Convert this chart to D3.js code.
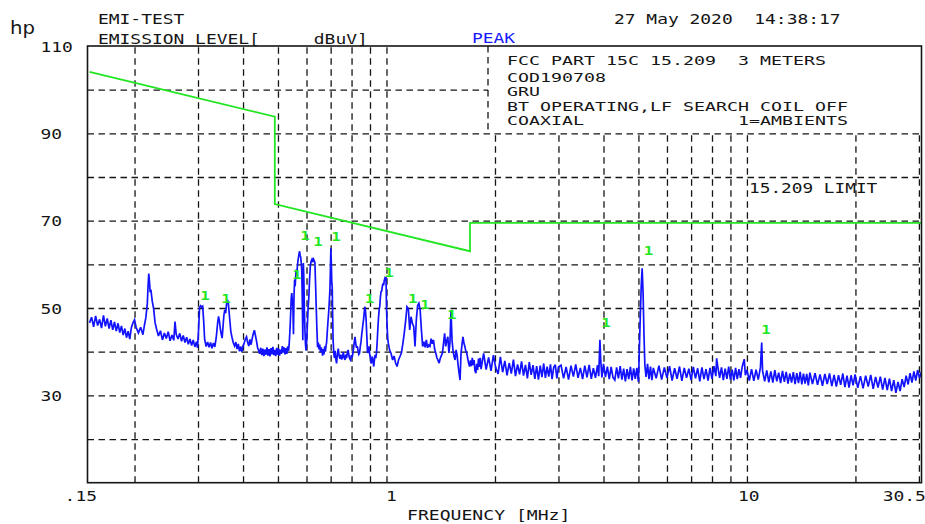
<!DOCTYPE html>
<html>
<head>
<meta charset="utf-8">
<script src="https://cdn.jsdelivr.net/npm/d3@7"></script>
<style>
  html, body { margin: 0; padding: 0; background: #fff; }
  svg { display: block; }
  text { white-space: pre; }
</style>
</head>
<body>
<svg id="chart" width="925" height="524"></svg>
<script>
// ---------------- data ----------------
const gridFreqMHz = [0.2, 0.3, 0.4, 0.5, 0.6, 0.7, 0.8, 0.9, 1, 2, 3, 4, 5, 6, 7, 8, 9, 10, 20, 30];
const gridLevels = [20, 30, 40, 50, 60, 70, 80, 90, 100];
const xTickValues = [0.15, 1, 10, 30.5];
const xTickLabels = [".15", "1", "10", "30.5"];
const yTickValues = [110, 90, 70, 50, 30];

// FCC 15.209 limit at 3 m (dBuV/m)
const limitFreqMHz = [0.15, 0.49, 0.49, 1.705, 1.705, 30.5];
const limitLevel   = [104.1, 93.8, 73.8, 63.0, 69.5, 69.5];

// ambient markers ("1")
const ambientFreqMHz = [0.3136, 0.3586, 0.5645, 0.594, 0.6456, 0.7245, 0.897, 1.016, 1.184, 1.279, 1.519, 4.063, 5.333, 11.29];
const ambientLevel   = [51.8, 51.1, 56.6, 65.6, 64.2, 65.4, 51.2, 57.1, 51.2, 49.7, 47.5, 45.7, 62.1, 44.0];

// peak sweep, [MHz, dBuV]
const sweepLow = [
  [0.150,46.6],[0.152,47.9],[0.154,45.7],[0.156,48.2],[0.158,46.0],[0.160,47.4],[0.162,45.4],[0.164,48.3],[0.166,45.8],[0.168,47.6],
  [0.170,45.3],[0.172,47.2],[0.174,45.0],[0.176,46.8],[0.178,44.7],[0.180,46.5],[0.182,44.4],[0.184,45.9],[0.186,43.8],[0.188,45.3],
  [0.190,43.2],[0.192,44.7],[0.194,42.9],[0.196,45.5],[0.198,46.6],[0.200,47.3],[0.202,45.6],[0.205,44.3],[0.208,45.6],[0.211,43.9],
  [0.213,46.0],[0.215,47.8],[0.217,51.0],[0.218,54.8],[0.219,57.9],[0.220,56.2],[0.221,53.6],[0.222,54.2],[0.224,51.5],[0.226,49.8],
  [0.228,46.7],[0.230,45.3],[0.233,43.6],[0.236,44.8],[0.239,42.7],[0.242,44.3],[0.245,43.0],[0.248,44.6],[0.251,42.5],[0.254,43.8],
  [0.257,42.6],[0.259,46.9],[0.261,44.0],[0.264,42.9],[0.267,44.2],[0.270,42.4],[0.273,43.7],[0.276,42.1],[0.279,43.3],[0.282,41.7],
  [0.285,42.9],[0.288,41.4],[0.291,42.7],[0.294,41.1],[0.297,42.3],[0.299,40.9],[0.301,44.8],[0.303,50.1],[0.305,50.5],[0.307,50.2],
  [0.309,50.4],[0.311,47.2],[0.313,42.8],[0.316,41.2],[0.319,42.2],[0.322,41.0],[0.325,42.1],[0.328,40.8],[0.331,42.0],[0.334,41.1],
  [0.337,43.2],[0.340,46.5],[0.342,48.1],[0.344,47.0],[0.346,45.2],[0.348,44.0],[0.350,43.1],[0.352,45.8],[0.354,48.4],[0.356,49.6],
  [0.358,48.8],[0.360,50.9],[0.362,51.9],[0.364,51.2],[0.366,49.0],[0.368,46.8],[0.370,44.6],[0.373,43.2],[0.376,42.0],[0.379,41.3],
  [0.382,42.2],[0.385,40.6],[0.388,41.8],[0.391,40.1],[0.394,41.2],[0.397,40.0],[0.400,41.3],[0.403,42.0],[0.406,42.9],[0.409,43.4],
  [0.412,42.1],[0.415,41.3],[0.418,42.8],[0.421,41.6],[0.424,43.0],[0.427,44.1],[0.430,44.9],[0.433,43.7],[0.436,42.4],[0.439,40.9],
  [0.442,40.3],[0.445,39.5],[0.448,40.9],[0.451,39.2],[0.454,40.7],[0.457,39.0],[0.460,40.5],[0.463,39.3],[0.466,41.0],[0.469,39.1],
  [0.472,40.6],[0.475,38.9],[0.478,40.8],[0.481,39.4],[0.484,41.1],[0.487,39.2],[0.490,40.4],[0.493,39.0],[0.496,40.9],[0.499,39.3],
  [0.502,40.7],[0.505,39.1],[0.508,40.5],[0.511,39.5],[0.514,41.3],[0.517,39.8],[0.520,41.0],[0.523,39.4],[0.526,40.8],[0.529,39.5],
  [0.532,41.2],[0.535,40.2]
];
const sweepMid = [
  [0.537,41.6],[0.540,45.2],[0.542,48.3],[0.544,52.1],[0.546,53.4],[0.548,51.7],[0.550,50.2],[0.552,44.0],[0.554,52.8],[0.556,56.5],
  [0.558,55.0],[0.560,57.3],[0.562,58.8],[0.564,57.6],[0.566,59.5],[0.568,60.8],[0.570,61.6],[0.572,62.4],[0.574,63.0],[0.576,62.1],
  [0.578,61.7],[0.580,60.4],[0.582,58.6],[0.584,52.0],[0.586,42.6],[0.587,50.0],[0.588,60.3],[0.590,56.5],[0.592,49.4],[0.594,45.0],
  [0.596,41.8],[0.598,40.3],[0.600,41.7],[0.603,45.6],[0.606,49.8],[0.609,52.5],[0.612,56.7],[0.615,59.8],[0.618,60.7],[0.621,61.1],
  [0.624,60.5],[0.627,61.2],[0.630,60.9],[0.633,60.4],[0.636,55.0],[0.638,51.0],[0.641,45.3],[0.644,41.0],[0.647,42.1],[0.650,40.5],
  [0.653,41.6],[0.656,39.9],[0.659,41.0],[0.662,40.2],[0.665,39.1],[0.668,40.6],[0.671,39.4],[0.674,41.2],[0.677,40.0],[0.680,41.5],
  [0.682,42.0],[0.685,44.5],[0.688,46.8],[0.691,48.8],[0.694,51.5],[0.697,54.5],[0.699,59.0],[0.701,63.7],[0.703,60.5],[0.705,56.0],
  [0.707,54.9],[0.709,48.5],[0.711,42.7],[0.714,39.8],[0.717,38.6],[0.720,40.2],[0.723,38.5],[0.727,37.3],[0.731,39.6],[0.735,40.7],
  [0.739,39.0],[0.743,38.4],[0.747,39.3],[0.751,38.2],[0.755,38.8],[0.759,39.9],[0.763,38.6],[0.767,38.1],[0.771,39.3],[0.775,38.5],
  [0.779,39.8],[0.783,40.4],[0.787,39.0],[0.791,38.4],[0.795,38.1],[0.799,39.2],[0.803,38.7],[0.807,39.7],[0.811,41.0],[0.815,42.6],
  [0.818,43.4],[0.822,41.8],[0.826,40.9],[0.830,41.3],[0.834,40.2],[0.838,39.4],[0.842,39.7],[0.846,41.2],[0.850,42.3],[0.854,44.1],
  [0.857,45.0],[0.860,46.2],[0.864,47.4],[0.868,49.2],[0.872,50.3],[0.875,49.0],[0.878,47.3],[0.882,43.5],[0.886,39.7],[0.890,40.6],
  [0.894,41.2],[0.898,39.5],[0.902,38.6],[0.906,37.3],[0.910,38.0],[0.914,38.9],[0.918,37.6],[0.922,36.6],[0.926,38.2],[0.930,39.3],
  [0.934,38.5],[0.938,39.7],[0.942,42.0],[0.946,45.0],[0.950,47.6],[0.954,49.5],[0.958,50.4],[0.962,52.5],[0.966,53.8],[0.970,53.9],
  [0.974,55.0],[0.978,55.6],[0.982,55.2],[0.986,56.3],[0.990,56.8],[0.994,56.5],[0.997,57.1],[1.000,50.3],[1.004,45.8],[1.008,43.0],
  [1.012,41.9],[1.02,40.4],[1.03,39.6],[1.04,38.1],[1.05,39.0],[1.06,37.4],[1.07,36.6],[1.08,38.1],[1.09,38.9],
  [1.10,39.7],[1.11,41.8],[1.12,44.2],[1.13,47.0],[1.14,50.3],[1.15,49.9],[1.16,45.0],[1.17,48.0],[1.18,46.5],[1.19,45.8],
  [1.20,41.2],[1.21,47.3],[1.22,50.6],[1.23,51.1],[1.24,49.5],[1.25,45.0],[1.26,41.2],[1.27,42.3],[1.28,41.0],[1.29,42.7],
  [1.30,40.9],[1.31,41.5],[1.32,41.2],[1.33,43.0],[1.34,41.8],[1.35,42.7],[1.36,40.6],[1.37,39.7],[1.38,38.6],[1.39,38.0],
  [1.40,37.4],[1.41,38.5],[1.42,39.1],[1.43,39.7],[1.44,42.0],[1.45,44.2],[1.46,41.2],[1.47,42.6],[1.48,43.4],[1.49,39.7],
  [1.50,42.0],[1.51,49.5],[1.52,42.7],[1.53,40.2],[1.54,38.9],[1.55,38.1],[1.56,40.4],[1.57,39.2],[1.58,37.0],[1.59,35.1],
  [1.60,33.5],[1.61,39.7],[1.62,41.6],[1.63,43.4],[1.64,42.0],[1.65,41.2],[1.66,40.1],[1.67,39.7],[1.68,38.5],[1.69,37.4],
  [1.70,36.6],[1.71,38.0],[1.72,36.7],[1.73,38.6],[1.74,36.9],[1.75,38.1],[1.76,35.6],[1.77,35.1],[1.78,37.2],[1.79,35.8],
  [1.80,38.4],[1.81,36.5],[1.82,38.6],[1.83,36.0]
];
const sweepHigh = [
  [1.84,37.2],[1.86,39.6],[1.89,35.9],[1.92,38.7],[1.95,35.6],[1.98,39.2],[2.01,36.3],[2.04,34.9],[2.07,38.8],[2.10,35.3],
  [2.13,37.9],[2.16,34.6],[2.19,37.4],[2.22,35.0],[2.25,38.2],[2.28,34.4],[2.31,37.1],[2.34,34.8],[2.37,37.8],[2.40,34.5],
  [2.43,37.0],[2.46,33.9],[2.49,37.6],[2.52,34.7],[2.55,36.9],[2.58,33.8],[2.61,36.7],[2.64,33.6],[2.67,36.8],[2.70,34.2],
  [2.73,37.3],[2.76,34.0],[2.79,36.6],[2.82,34.3],[2.85,37.1],[2.88,33.7],[2.91,36.4],[2.94,37.0],[2.97,33.9],[3.00,36.5],
  [3.05,36.9],[3.10,33.9],[3.15,36.5],[3.20,33.6],[3.25,36.8],[3.30,34.3],[3.35,37.1],[3.40,34.0],[3.45,36.3],[3.50,33.7],
  [3.55,36.8],[3.60,34.1],[3.65,37.0],[3.70,33.8],[3.75,36.2],[3.80,34.0],[3.85,36.9],[3.88,34.4],[3.91,42.7],[3.93,38.0],
  [3.96,34.1],[4.00,37.2],[4.05,34.2],[4.10,36.6],[4.15,33.7],[4.20,36.5],[4.25,34.1],[4.30,33.5],[4.35,36.4],[4.40,33.9],
  [4.45,36.7],[4.50,33.6],[4.55,36.1],[4.60,33.2],[4.65,36.0],[4.70,33.7],[4.75,36.5],[4.80,33.4],[4.85,36.2],[4.90,33.8],
  [4.95,36.3],[5.00,33.1],[5.03,40.5],[5.06,48.0],[5.09,55.0],[5.12,59.1],[5.15,53.7],[5.18,44.0],[5.21,36.9],[5.25,34.2],
  [5.30,37.2],[5.35,33.7],[5.40,36.6],[5.45,33.5],[5.50,36.3],[5.60,33.9],[5.70,36.8],[5.80,33.6],[5.90,36.4],[6.00,34.0],
  [6.10,36.7],[6.20,33.4],[6.30,36.2],[6.40,33.8],[6.50,36.6],[6.60,33.3],[6.70,36.3],[6.80,34.0],[6.90,36.1],[7.00,33.5],
  [7.10,36.5],[7.20,33.9],[7.30,36.2],[7.40,33.2],[7.50,36.4],[7.60,33.7],[7.70,36.0],[7.80,33.4],[7.90,36.3],[8.00,33.8],
  [8.10,36.7],[8.20,34.4],[8.24,38.5],[8.30,36.6],[8.40,34.0],[8.50,36.4],[8.60,33.5],[8.70,36.1],[8.80,33.8],[8.90,36.6],
  [9.00,33.6],[9.10,35.9],[9.20,33.4],[9.30,36.3],[9.40,33.7],[9.50,36.0],[9.60,34.0],[9.70,36.5],[9.83,38.3],[9.90,34.6],
  [10.0,35.8],[10.15,33.4],[10.30,36.0],[10.45,33.3],[10.60,35.9],[10.75,33.6],[10.90,36.4],[10.99,42.1],[11.05,35.6],[11.20,33.2],
  [11.35,35.7],[11.50,33.0],[11.65,35.5],[11.80,32.9],[11.95,35.8],[12.10,33.2],[12.25,35.2],[12.40,32.8],[12.55,35.6],[12.70,33.1],
  [12.85,35.4],[13.00,32.7],[13.15,35.0],[13.30,32.9],[13.45,35.3],[13.60,32.6],[13.75,35.1],[13.90,32.8],[14.05,35.4],[14.20,32.5],
  [14.35,35.0],[14.50,32.7],[14.65,34.9],[14.80,32.3],[14.95,35.2],[15.20,32.6],[15.45,35.1],[15.70,32.4],[15.95,34.8],[16.20,32.2],
  [16.45,34.9],[16.70,32.6],[16.95,35.0],[17.20,32.1],[17.45,34.7],[17.70,32.0],[17.95,34.6],[18.20,32.4],[18.45,35.0],[18.70,31.9],
  [18.95,34.5],[19.20,31.8],[19.45,34.6],[19.70,32.3],[19.95,34.8],[20.30,31.7],[20.65,34.4],[21.00,31.6],[21.35,34.5],[21.70,32.0],
  [22.05,34.7],[22.40,31.5],[22.75,34.2],[23.10,31.8],[23.45,34.3],[23.80,31.3],[24.15,34.0],[24.50,31.2],[24.85,33.8],[25.20,31.0],
  [25.55,33.5],[25.90,30.6],[26.25,33.1],[26.60,31.0],[26.95,33.7],[27.30,31.9],[27.65,34.5],[28.00,32.5],[28.35,35.1],[28.70,32.9],
  [29.05,35.5],[29.40,33.4],[29.75,35.8],[30.10,34.0],[30.50,35.4]
];

// texts
const titleLines = ["EMI-TEST", "EMISSION LEVEL[     dBuV]"];
const dateText = "27 May 2020  14:38:17";
const detectorText = "PEAK";
const infoLines = [
  "FCC PART 15C 15.209  3 METERS",
  "COD190708",
  "GRU",
  "BT OPERATING,LF SEARCH COIL OFF",
  "COAXIAL              1=AMBIENTS"
];
const limitLabel = "15.209 LIMIT";
const xTitle = "FREQUENCY [MHz]";
const logoText = "hp";

// ---------------- layout ----------------
const FONT = "'DejaVu Sans Mono', 'Liberation Mono', monospace";
const ADV = 0.602;           // advance width of the mono font, in em
const ink = "#151515";
const green = "#22e622";
const blue = "#1212ff";
const plot = { left: 87.5, right: 921.5, top: 46, bottom: 482.7 };

const svg = d3.select("#chart");
const x = d3.scaleLog().domain([0.15, 30.5]).range([89.5, 921.5]);
const y = d3.scaleLinear().domain([10, 110]).range([plot.bottom, plot.top]);

// mono text stretched to the plotter's wide character pitch
function mono(parent, str, px, py, size, pitch, fill, anchor, weight) {
  const sx = pitch / (ADV * size);
  return parent.append("text")
    .attr("transform", `translate(${px},${py}) scale(${sx},1)`)
    .attr("font-family", FONT)
    .attr("font-size", size)
    .attr("font-weight", weight || "normal")
    .attr("fill", fill || ink)
    .attr("text-anchor", anchor || "start")
    .text(str);
}

// ---------------- grid ----------------
const dash = "6.5,4.5";
const vGrid = svg.append("g")
  .attr("transform", `translate(0,${plot.bottom})`)
  .call(d3.axisBottom(x).tickValues(gridFreqMHz).tickSize(-(plot.bottom - plot.top)).tickFormat(""));
vGrid.select(".domain").remove();
vGrid.selectAll("line").attr("stroke", ink).attr("stroke-width", 1.3).attr("stroke-dasharray", dash);

const hGrid = svg.append("g")
  .attr("transform", `translate(${plot.left},0)`)
  .call(d3.axisLeft(y).tickValues(gridLevels).tickSize(-(plot.right - plot.left)).tickFormat(""));
hGrid.select(".domain").remove();
hGrid.selectAll("line").attr("stroke", ink).attr("stroke-width", 1.3).attr("stroke-dasharray", dash);

// info box in the upper right corner of the plot
const infoBox = { x0: 488, y1: 131.8 };
svg.append("rect")
  .attr("x", infoBox.x0).attr("y", plot.top)
  .attr("width", plot.right - infoBox.x0).attr("height", infoBox.y1 - plot.top)
  .attr("fill", "#fff");
svg.append("line")
  .attr("x1", infoBox.x0).attr("x2", infoBox.x0)
  .attr("y1", plot.top).attr("y2", infoBox.y1 + 1)
  .attr("stroke", ink).attr("stroke-width", 1.3).attr("stroke-dasharray", dash);

// ---------------- traces ----------------
svg.append("clipPath").attr("id", "plotClip")
  .append("rect")
  .attr("x", plot.left).attr("y", plot.top)
  .attr("width", plot.right - plot.left).attr("height", plot.bottom - plot.top);

const limitPts = limitFreqMHz.map((f, i) => [f, limitLevel[i]]);
const line = d3.line().x(d => x(d[0])).y(d => y(d[1]));

svg.append("path")
  .datum(limitPts)
  .attr("d", line)
  .attr("fill", "none")
  .attr("stroke", green)
  .attr("stroke-width", 1.8)
  .attr("clip-path", "url(#plotClip)");

const sweep = sweepLow.concat(sweepMid, sweepHigh);
svg.append("path")
  .datum(sweep)
  .attr("d", line)
  .attr("fill", "none")
  .attr("stroke", blue)
  .attr("stroke-width", 1.7)
  .attr("stroke-linejoin", "miter")
  .attr("stroke-miterlimit", 3)
  .attr("clip-path", "url(#plotClip)");

// ambient markers
const markerG = svg.append("g");
ambientFreqMHz.forEach((f, i) => {
  mono(markerG, "1", x(f), y(ambientLevel[i]), 12.5, 9.6, green, "middle", "bold");
});

// frame
svg.append("rect")
  .attr("x", plot.left).attr("y", plot.top)
  .attr("width", plot.right - plot.left).attr("height", plot.bottom - plot.top)
  .attr("fill", "none").attr("stroke", ink).attr("stroke-width", 1.6);

// ---------------- axes labels ----------------
const sxMain = 10.8 / (ADV * 14.5);
const xLabelShift = [-9.2, 4.3, 1.4, -17.7];
const xAx = svg.append("g")
  .attr("transform", `translate(0,${plot.bottom})`)
  .call(d3.axisBottom(x).tickValues(xTickValues).tickSize(0).tickFormat((d, i) => xTickLabels[i]));
xAx.select(".domain").remove();
xAx.selectAll(".tick line").remove();
xAx.attr("font-family", null).attr("font-size", null);
xAx.selectAll(".tick text").each(function (d, i) {
  d3.select(this)
    .attr("x", 0).attr("y", 0).attr("dy", null)
    .attr("transform", `translate(${xLabelShift[i]},18.3) scale(${sxMain},1)`)
    .attr("text-anchor", "middle")
    .attr("font-family", FONT).attr("font-size", 14.5).attr("fill", ink);
});

const yAx = svg.append("g")
  .attr("transform", `translate(${plot.left},0)`)
  .call(d3.axisLeft(y).tickValues(yTickValues).tickSize(0).tickFormat(d3.format("d")));
yAx.select(".domain").remove();
yAx.selectAll(".tick line").remove();
yAx.attr("font-family", null).attr("font-size", null);
yAx.selectAll(".tick text")
  .attr("x", 0).attr("dy", null)
  .attr("transform", `translate(-47,5.2) scale(${sxMain},1)`)
  .attr("text-anchor", "start")
  .attr("font-family", FONT).attr("font-size", 14.5).attr("fill", ink);

mono(svg, xTitle, 407, 520.3, 14, 10.9);

// ---------------- header ----------------
svg.append("text")
  .attr("x", 10).attr("y", 33.5)
  .attr("font-family", "'DejaVu Sans', sans-serif")
  .attr("font-size", 17)
  .attr("textLength", 25).attr("lengthAdjust", "spacingAndGlyphs")
  .attr("fill", ink)
  .text(logoText);

mono(svg, titleLines[0], 98, 24, 14.5, 10.8);
mono(svg, titleLines[1], 98, 43.5, 14.5, 10.8);
mono(svg, detectorText, 472, 42.7, 14.5, 10.8, "#1a1aff");
mono(svg, dateText, 614, 24, 14.5, 10.8);

const infoBase = [64.5, 81.6, 96.2, 110.8, 125.4];
infoLines.forEach((s, i) => mono(svg, s, 507, infoBase[i], 12.4, 11.0));

mono(svg, limitLabel, 749, 192.5, 14.5, 10.7);
</script>
</body>
</html>
